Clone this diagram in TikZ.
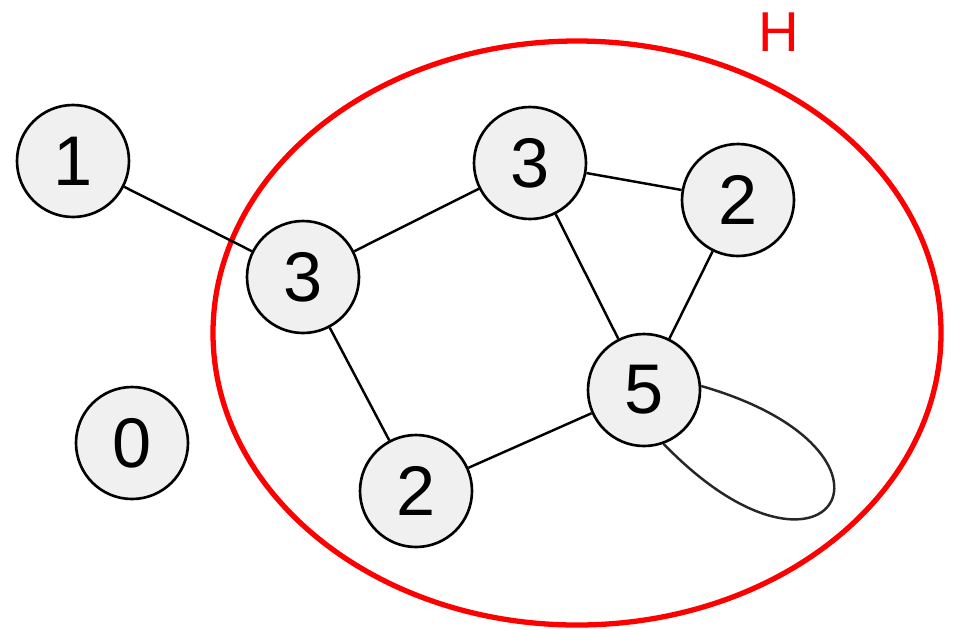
\documentclass[tikz,border=0pt]{standalone}
\usepackage{fontspec}
\setmainfont{Liberation Sans}
\usepackage{tikz}
\usetikzlibrary{shapes.geometric}

\begin{document}
\begin{tikzpicture}[font=\fontsize{40}{44}\selectfont,
vertex/.style={draw, circle, line width=1.5pt, fill=gray!12, minimum size=2.24cm, inner sep=0pt},
edge/.style={line width=1.4pt}, hull/.style={draw=red, line width=3pt}]
\useasboundingbox (0,0) rectangle (19.18,-12.58);
\node[hull, ellipse, minimum width=14.56cm, minimum height=11.68cm] (H) at (11.54,-6.66) {};
\node[text=red, font=\fontsize{32}{36}\selectfont] (Hlabel) at (15.58,-0.64) {H};
\node[vertex] (one) at (1.46,-3.22) {1};
\node[vertex] (zero) at (2.64,-8.86) {0};
\node[vertex] (left) at (6.06,-5.54) {3};
\node[vertex] (top) at (10.6,-3.26) {3};
\node[vertex] (right) at (14.76,-4.0) {2};
\node[vertex] (five) at (12.88,-7.8) {5};
\node[vertex] (bottom) at (8.32,-9.82) {2};
\draw[edge] (one) -- (left); \draw[edge] (left) -- (top); \draw[edge] (left) -- (bottom); \draw[edge] (top) -- (right); \draw[edge] (top) -- (five); \draw[edge] (right) -- (five); \draw[edge] (bottom) -- (five);
\draw[edge, black!85] (five.4) to[out=-16, in=-46, distance=4.75cm] (five.-70);
\end{tikzpicture}
\end{document}
